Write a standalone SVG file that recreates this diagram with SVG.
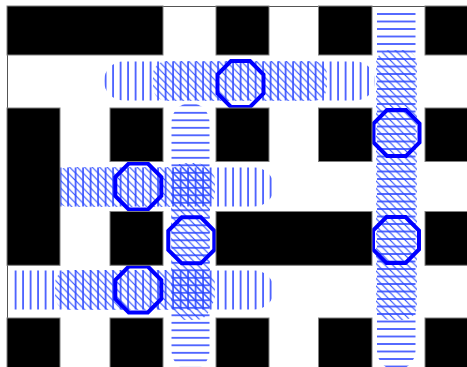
<svg xmlns="http://www.w3.org/2000/svg" width="467" height="367" viewBox="0 0 467 367">
<style>
.obs{fill:#000;stroke:#808080;stroke-width:1}
.oct{fill:none;stroke:#0000ff;stroke-width:4}
</style>
<defs>
<pattern id="pV" patternUnits="userSpaceOnUse" x="-3.15" y="0" width="7.5" height="10"><line x1="3.75" y1="-1" x2="3.75" y2="11" stroke="#0a28ff" stroke-width="1.35"/></pattern>
<pattern id="pH3" patternUnits="userSpaceOnUse" x="0" y="-3.45" width="10" height="7.5"><line x1="-1" y1="3.75" x2="11" y2="3.75" stroke="#0a28ff" stroke-width="1.35"/></pattern>
<pattern id="pH7" patternUnits="userSpaceOnUse" x="0" y="2.75" width="10" height="7.5"><line x1="-1" y1="3.75" x2="11" y2="3.75" stroke="#0a28ff" stroke-width="1.35"/></pattern>
<pattern id="pD" patternUnits="userSpaceOnUse" x="0" y="0" width="7.5" height="7.5"><path d="M-1,-1L8.5,8.5M-1,6.5L1,8.5M6.5,-1L8.5,1" stroke="#2a4cff" stroke-width="1.15" fill="none"/></pattern>
<polygon id="oct" points="-9.53,-23 9.53,-23 23,-9.53 23,9.53 9.53,23 -9.53,23 -23,9.53 -23,-9.53"/>
<clipPath id="frame"><rect x="8" y="7" width="460" height="361"/></clipPath>
</defs>
<rect width="467" height="367" fill="#fff"/>
<rect x="7.5" y="6.5" width="470" height="370" fill="#fff" stroke="#555" stroke-width="1"/>
<g id="swept-volumes" clip-path="url(#frame)">
  <rect x="104" y="61.5" width="271" height="39" rx="19.5" fill="url(#pV)"/>
  <rect x="171.5" y="103" width="38" height="267" rx="19" fill="url(#pH3)"/>
  <rect x="0" y="167.5" width="274" height="39" rx="19.5" fill="url(#pV)"/>
  <path d="M11,270.5H254.5A19.5,19.5 0 0 1 254.5,309.5H11Z" fill="url(#pV)"/>
  <path d="M377,9H415.5V350.75A19.25,19.25 0 0 1 377,350.75Z" fill="url(#pH7)"/>
  <rect x="153" y="61" width="174" height="40" rx="14" fill="url(#pD)"/>
  <rect x="171" y="163" width="39" height="157" rx="14" fill="url(#pD)"/>
  <rect x="55" y="167" width="160" height="40" rx="14" fill="url(#pD)"/>
  <rect x="55" y="270" width="160" height="40" rx="14" fill="url(#pD)"/>
  <rect x="376" y="50" width="41" height="270" rx="14" fill="url(#pD)"/>
</g>
<g id="robot-1"><use href="#oct" x="240.5" y="84" class="oct"/></g>
<g id="robot-2"><use href="#oct" x="396.5" y="133" class="oct"/></g>
<g id="robot-3"><use href="#oct" x="138.3" y="186.5" class="oct"/></g>
<g id="robot-4"><use href="#oct" x="191.3" y="240.3" class="oct"/></g>
<g id="robot-5"><use href="#oct" x="396" y="240" class="oct"/></g>
<g id="robot-6"><use href="#oct" x="138.3" y="289.5" class="oct"/></g>
<g id="obstacles">
  <rect class="obs" x="7" y="6" width="156" height="49"/>
  <rect class="obs" x="216" y="6" width="53" height="49"/>
  <rect class="obs" x="318.5" y="6" width="53.5" height="49"/>
  <rect class="obs" x="425" y="6" width="45" height="49"/>
  <rect class="obs" x="7" y="108" width="53" height="157.3"/>
  <rect class="obs" x="110" y="108" width="53" height="53.5"/>
  <rect class="obs" x="216" y="108" width="53" height="53.5"/>
  <rect class="obs" x="318.5" y="108" width="53.5" height="53.5"/>
  <rect class="obs" x="425" y="108" width="45" height="53.5"/>
  <rect class="obs" x="110" y="211.5" width="53" height="53.8"/>
  <rect class="obs" x="216" y="211.5" width="156" height="53.8"/>
  <rect class="obs" x="425" y="211.5" width="45" height="53.8"/>
  <rect class="obs" x="7" y="318" width="53" height="52"/>
  <rect class="obs" x="110" y="318" width="53" height="52"/>
  <rect class="obs" x="216" y="318" width="53" height="52"/>
  <rect class="obs" x="318.5" y="318" width="53.5" height="52"/>
  <rect class="obs" x="425" y="318" width="45" height="52"/>
</g>
</svg>
